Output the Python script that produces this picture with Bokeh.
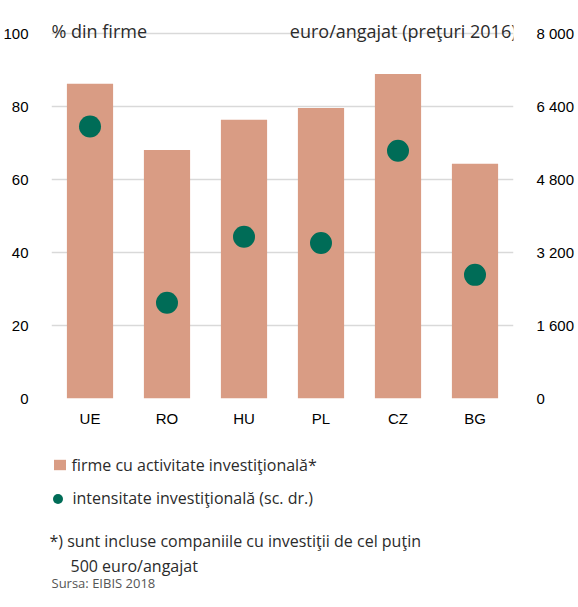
from bokeh.plotting import figure
from bokeh.layouts import column
from bokeh.models import (FactorRange, Range1d, LinearAxis, FixedTicker, Label,
                          Legend, LegendItem)
from bokeh.embed import file_html
from bokeh.resources import INLINE

# ---- data ----
countries = ["UE", "RO", "HU", "PL", "CZ", "BG"]
firms_share = [86.2, 68.1, 76.4, 79.6, 88.9, 64.3]          # % din firme
intensity = [5960, 2100, 3545, 3410, 5430, 2710]            # euro/angajat
left_ticks = [0, 20, 40, 60, 80, 100]
right_ticks = [0, 1600, 3200, 4800, 6400, 8000]
right_tick_labels = ["0", "1 600", "3 200", "4 800", "6 400", "8 000"]

BAR = "#D99C84"
DOT = "#006C57"
GRID = "#D9D9D9"
TICK_FONT = "Liberation Sans"
TXT_FONT = "Open Sans"
TXT_COLOR = "#2b2b2b"

# frame extends above the 100 line to hold the unit captions
FRAME_H = 390
SCALE_H = 365                     # pixels from 0 to 100
top_left = 100 * FRAME_H / SCALE_H
top_right = 8000 * FRAME_H / SCALE_H

p = figure(x_range=FactorRange(*countries), y_range=Range1d(0, top_left),
           frame_width=462, frame_height=FRAME_H,
           min_border_left=45, min_border_right=55, min_border_top=8, min_border_bottom=32,
           output_backend="svg", toolbar_location=None)
p.extra_y_ranges = {"eur": Range1d(0, top_right)}

p.outline_line_color = None
p.background_fill_color = "white"
p.border_fill_color = "white"

bars = p.vbar(x=countries, top=firms_share, width=0.6, fill_color=BAR, line_color=None)
dots = p.scatter(x=countries, y=intensity, y_range_name="eur", size=22,
                 fill_color=DOT, line_color=None)

# grid
p.xgrid.grid_line_color = None
p.ygrid.ticker = FixedTicker(ticks=left_ticks)
p.ygrid.grid_line_color = GRID
p.ygrid.grid_line_width = 1.7

def style_axis(ax, standoff):
    ax.axis_line_color = None
    ax.major_tick_line_color = None
    ax.minor_tick_line_color = None
    ax.major_label_standoff = standoff
    ax.major_label_text_font = TICK_FONT
    ax.major_label_text_font_size = "15px"
    ax.major_label_text_color = "black"

ya = p.yaxis[0]
ya.ticker = FixedTicker(ticks=left_ticks)
style_axis(ya, 17)

ra = LinearAxis(y_range_name="eur", ticker=FixedTicker(ticks=right_ticks))
ra.major_label_overrides = {t: s for t, s in zip(right_ticks, right_tick_labels)}
style_axis(ra, 17)
p.add_layout(ra, "right")

style_axis(p.xaxis[0], 5)

# unit captions above the 100 line
p.add_layout(Label(x=0, y=100.8, x_units="screen", y_units="data", text="% din firme",
                   text_font=TXT_FONT, text_font_size="18px", text_color=TXT_COLOR,
                   text_align="left", text_baseline="alphabetic"))
p.add_layout(Label(x=465, y=100.8, x_units="screen", y_units="data",
                   text="euro/angajat (preţuri 2016)",
                   text_font=TXT_FONT, text_font_size="18px", text_color=TXT_COLOR,
                   text_align="right", text_baseline="alphabetic"))

# ---- lower panel: legend and notes ----
NOTE_H = 161
q = figure(x_range=Range1d(0, 562), y_range=Range1d(NOTE_H, 0),
           width=562, height=NOTE_H, min_border=0,
           x_axis_type=None, y_axis_type=None,
           output_backend="svg", toolbar_location=None)
if "frame_align" in q.properties():
    q.frame_align = False
    p.frame_align = False
q.outline_line_color = None
q.grid.grid_line_color = None
q.background_fill_color = "white"
q.border_fill_color = "white"

# legend keys: the same series, hidden in this panel, only their swatches show
bar_key = q.vbar(x=firms_share, top=firms_share, width=0.6,
                 fill_color=BAR, line_color=None, visible=False)
dot_key = q.scatter(x=firms_share, y=intensity, size=10,
                    fill_color=DOT, line_color=None, visible=False)

common = dict(padding=0, margin=0, spacing=0, border_line_color=None,
              background_fill_alpha=0, inactive_fill_alpha=0,
              label_text_font=TXT_FONT, label_text_font_size="16px",
              label_text_color=TXT_COLOR)
leg1 = Legend(items=[LegendItem(label="firme cu activitate investiţională*", renderers=[bar_key])],
              location=(51.5, 115.5), glyph_width=15, glyph_height=13, label_height=13,
              label_standoff=5, **common)
leg2 = Legend(items=[LegendItem(label="intensitate investiţională (sc. dr.)", renderers=[dot_key])],
              location=(44.5, 80.5), glyph_width=25, glyph_height=25, label_height=25,
              label_standoff=3, **common)
q.add_layout(leg1)
q.add_layout(leg2)

def note(text, x, y, size, color=TXT_COLOR):
    q.add_layout(Label(x=x, y=y, text=text, text_font=TXT_FONT, text_font_size=size,
                       text_color=color, text_align="left", text_baseline="alphabetic"))

note("*) sunt incluse companiile cu investiţii  de cel puţin", 49, 110, "16px")
note("500 euro/angajat", 70, 135, "16px")
note("Sursa: EIBIS 2018", 51, 152, "13px", color="#555555")

layout = column(p, q, spacing=0)
open("out.html", "w").write(file_html(layout, INLINE))
